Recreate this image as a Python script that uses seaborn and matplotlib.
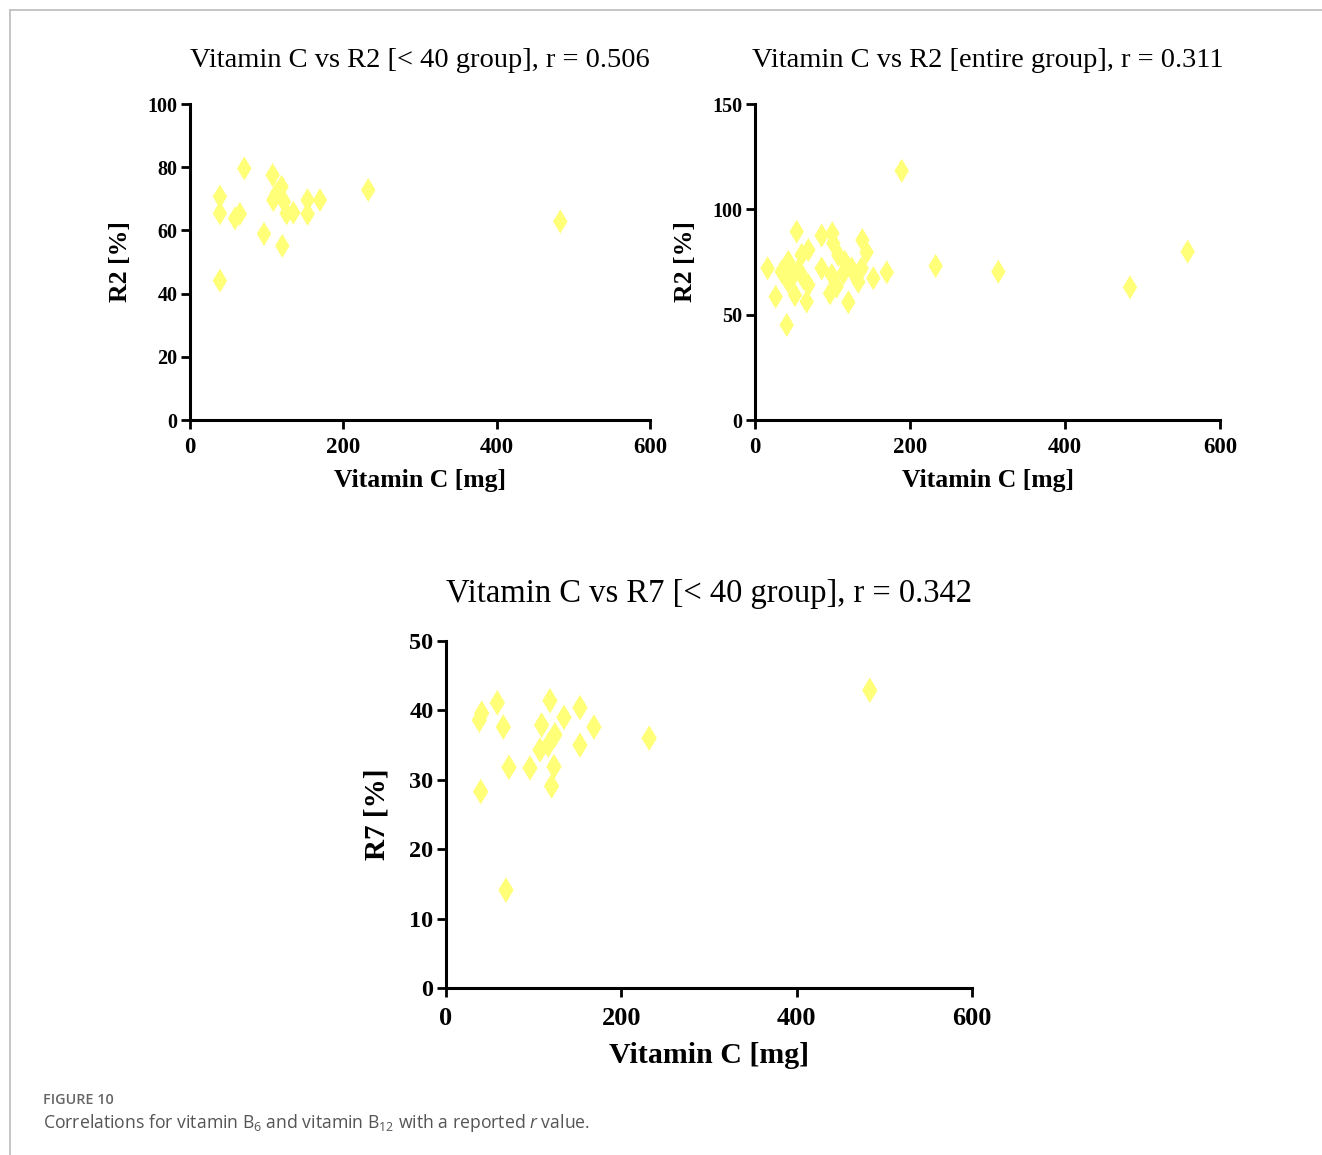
import matplotlib
matplotlib.use("Agg")
import matplotlib.pyplot as plt
import seaborn as sns
import pandas as pd
from matplotlib.lines import Line2D

# ---------------- data ----------------
p1_vitc = [39, 39, 39, 58.7, 65, 70.8, 96.5, 107.8, 108.7, 113, 119.5, 120.4,
           122.6, 126, 134.8, 153.4, 153.4, 169.5, 232.5, 483]
p1_r2 = [70.7, 65.4, 44.1, 63.8, 65.2, 79.6, 58.9, 77.5, 69.6, 71.7, 73.8, 55.1,
         69.1, 65.4, 65.6, 69.6, 65.2, 69.6, 72.8, 62.8]

p2_vitc = [16.3, 53.8, 86, 99.8, 101, 138.5, 144, 152.7, 170, 26.7, 40.9, 68.8,
           60.2, 43, 34.4, 49.5, 43, 62.4, 68.8, 51.6, 66.7, 55.9, 86, 99, 96.8,
           105.4, 107.5, 116, 124.7, 129, 133.3, 120.4, 114, 137.6,
           189.3, 233.1, 314, 483.9, 558.3]
p2_r2 = [72.0, 89.4, 87.5, 88.6, 83.9, 85.4, 79.6, 67.3, 70.1, 58.5, 45.1, 80.7,
         78.3, 75.1, 70.4, 68.8, 65.6, 67.3, 64.1, 59.3, 56.2, 71.2, 72, 68.8, 60.1,
         63.3, 78.3, 75.1, 72, 68.8, 65.6, 55.9, 69.6, 72,
         118.3, 73.1, 70.4, 63.0, 79.9]

p3_vitc = [40.7, 38, 58.5, 65.4, 71.8, 39.6, 68.4, 95.8, 107.2, 109.1, 118.6,
           116.7, 124.3, 134.6, 123.2, 120.5, 152.8, 152.8, 168.8, 231.8, 483.4]
p3_r7 = [39.6, 38.6, 41.1, 37.6, 31.8, 28.3, 14.1, 31.7, 34.3, 37.9, 41.4,
         35.0, 36.5, 39.0, 31.9, 29.1, 40.4, 35.0, 37.6, 36.0, 42.9]

titles = ["Vitamin C vs R2 [< 40 group], r = 0.506",
          "Vitamin C vs R2 [entire group], r = 0.311",
          "Vitamin C vs R7 [< 40 group], r = 0.342"]
xlabel = "Vitamin C [mg]"
ylabels = ["R2 [%]", "R2 [%]", "R7 [%]"]
xticks = [0, 200, 400, 600]
yticks1 = [0, 20, 40, 60, 80, 100]
yticks2 = [0, 50, 100, 150]
yticks3 = [0, 10, 20, 30, 40, 50]

# ---------------- style ----------------
sns.set_theme(style="ticks")
plt.rcParams["font.family"] = ["Liberation Serif", "DejaVu Serif"]
plt.rcParams["text.color"] = "black"
plt.rcParams["axes.labelcolor"] = "black"
plt.rcParams["xtick.color"] = "black"
plt.rcParams["ytick.color"] = "black"
plt.rcParams["mathtext.fontset"] = "custom"
plt.rcParams["mathtext.rm"] = "Open Sans"
plt.rcParams["mathtext.it"] = "Open Sans:italic"

W, H = 1322, 1155
fig = plt.figure(figsize=(W / 100, H / 100), dpi=100)
fig.patch.set_facecolor("white")

def fx(px):
    return px / W

def fy(py):
    return 1 - py / H

marker_color = "#FFFF78"

def make_panel(rect, x, y, title, ylab, yticks, ylim, tsize, xlsize, ylsize,
               xtsize, ytsize, tpad, ylpad, xlpad, xtpad, mk):
    ax = fig.add_axes(rect)
    df = pd.DataFrame({"x": x, "y": y})
    sns.scatterplot(data=df, x="x", y="y", ax=ax, marker="d", s=mk,
                    color=marker_color, edgecolor="none", linewidth=0, zorder=3)
    ax.set_xlim(0, 600)
    ax.set_ylim(*ylim)
    ax.set_xticks(xticks)
    ax.set_yticks(yticks)
    ax.set_xticklabels([str(t) for t in xticks], fontweight="bold", fontsize=xtsize)
    ax.set_yticklabels([str(t) for t in yticks], fontweight="bold", fontsize=ytsize)
    ax.set_xlabel(xlabel, fontweight="bold", fontsize=xlsize, labelpad=xlpad)
    ax.set_ylabel(ylab, fontweight="bold", fontsize=ylsize, labelpad=ylpad)
    ax.set_title(title, fontsize=tsize, pad=tpad, color="black")
    for s in ["top", "right"]:
        ax.spines[s].set_visible(False)
    for s in ["left", "bottom"]:
        ax.spines[s].set_linewidth(2.2)
        ax.spines[s].set_color("black")
    ax.tick_params(axis="both", length=6.5, width=2, color="black", labelcolor="black")
    ax.tick_params(axis="y", pad=2.5)
    ax.tick_params(axis="x", pad=xtpad)
    ax.set_facecolor("white")
    ax.margins(0)
    return ax

ax1 = make_panel([fx(190), fy(420), fx(460), 316 / H], p1_vitc, p1_r2, titles[0],
                 ylabels[0], yticks1, (0, 100), 20.5, 18.5, 18.5, 16.5, 14.5,
                 26.5, 11, 8, 6, 150)
ax2 = make_panel([fx(755), fy(420), fx(465), 316 / H], p2_vitc, p2_r2, titles[1],
                 ylabels[1], yticks2, (0, 150), 20.5, 18.5, 18.5, 16.5, 14.5,
                 26.5, 11, 8, 6, 150)
ax3 = make_panel([fx(446), fy(988), fx(526), 347 / H], p3_vitc, p3_r7, titles[2],
                 ylabels[2], yticks3, (0, 50), 23.5, 21.5, 21, 19, 17.5,
                 28, 13.5, 9, 7, 170)

# ---------------- frame & caption ----------------
fig.add_artist(Line2D([fx(10), 1], [fy(10), fy(10)], color="#BBBBBB", lw=1.2))
fig.add_artist(Line2D([fx(10), fx(10)], [fy(10), 0], color="#BBBBBB", lw=1.2))

fig.text(fx(43), fy(1100), "FIGURE 10", family="Open Sans", fontweight="semibold",
         fontsize=10.4, color="#666666", va="center", ha="left")
fig.text(fx(43), fy(1123),
         r"Correlations for vitamin B$_{6}$ and vitamin B$_{12}$ with a reported $r$ value.",
         family="Open Sans", fontsize=12.7, color="#555555", va="center", ha="left")

fig.savefig("out.png", dpi=100, facecolor="white")
